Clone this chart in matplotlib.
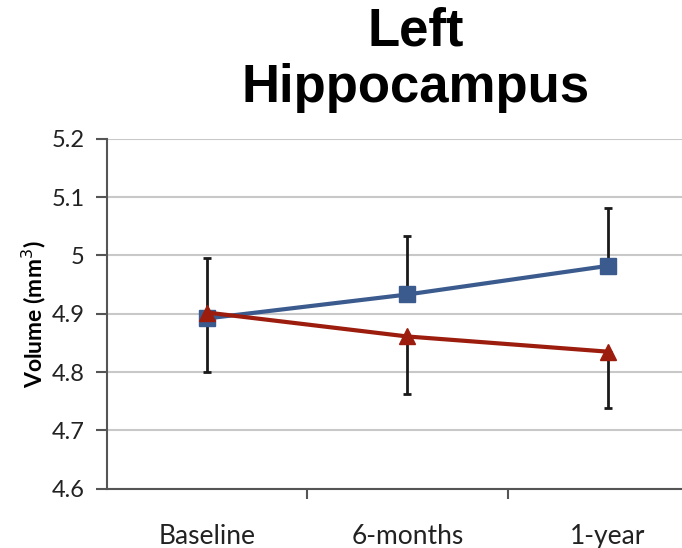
#!/usr/bin/env python3

"""Left hippocampus volume over time, two groups."""

import matplotlib.pyplot as plt
import numpy as np

categories = ["Baseline", "6-months", "1-year"]
blue_vals = [4.892, 4.933, 4.982]
blue_err_up = [0.103, 0.100, 0.099]
red_vals = [4.902, 4.861, 4.835]
red_err_down = [0.102, 0.099, 0.097]
yticks = [4.6, 4.7, 4.8, 4.9, 5.0, 5.1, 5.2]
yticklabels = ["4.6", "4.7", "4.8", "4.9", "5", "5.1", "5.2"]

fig = plt.figure(figsize=(6.82, 5.48), dpi=100)
# axis runs past the right edge, as in the cropped original
ax = fig.add_axes([0.157, 0.108, 0.881, 0.639])

x = np.arange(len(categories))
blue = "#3b5b8e"
red = "#9c1d0e"

ax.errorbar(x, blue_vals, yerr=[np.zeros(3), blue_err_up], fmt="none",
            ecolor="#1a1a1a", elinewidth=2, capsize=3, capthick=2, zorder=3)
ax.errorbar(x, red_vals, yerr=[red_err_down, np.zeros(3)], fmt="none",
            ecolor="#1a1a1a", elinewidth=2, capsize=3, capthick=2, zorder=3)
ax.plot(x, blue_vals, color=blue, lw=3, marker="s", ms=11, zorder=4)
ax.plot(x, red_vals, color=red, lw=3, marker="^", ms=12, zorder=5)

ax.set_xlim(-0.5, 2.5)
ax.set_ylim(4.6, 5.2)
ax.set_yticks(yticks)
ax.set_yticklabels(yticklabels, fontsize=17, family="Lato", color="#222222")
ax.set_xticks(x)
ax.set_xticklabels(categories, fontsize=19, family="Lato", color="#222222")
ax.set_xticks([0.5, 1.5], minor=True)
ax.tick_params(axis="x", which="major", length=0, pad=25)
ax.tick_params(axis="x", which="minor", length=7, width=1.5, color="#555555",
               direction="out")
ax.tick_params(axis="y", length=8, width=1.5, color="#555555", pad=8)

ax.grid(axis="y", color="#c8c8c8", lw=1.5)
ax.set_axisbelow(True)
for side in ["top", "right"]:
    ax.spines[side].set_visible(False)
for side in ["left", "bottom"]:
    ax.spines[side].set_color("#555555")
    ax.spines[side].set_linewidth(1.5)

ax.set_ylabel("Volume (mm$^3$)", fontsize=16.5, fontweight="bold",
              family="Lato", labelpad=3)

fig.text(0.61, 0.988, "Left\nHippocampus", ha="center", va="top",
         fontsize=38, fontweight="bold", family="Liberation Sans",
         linespacing=1.17)

plt.savefig("out.png", dpi=100)
